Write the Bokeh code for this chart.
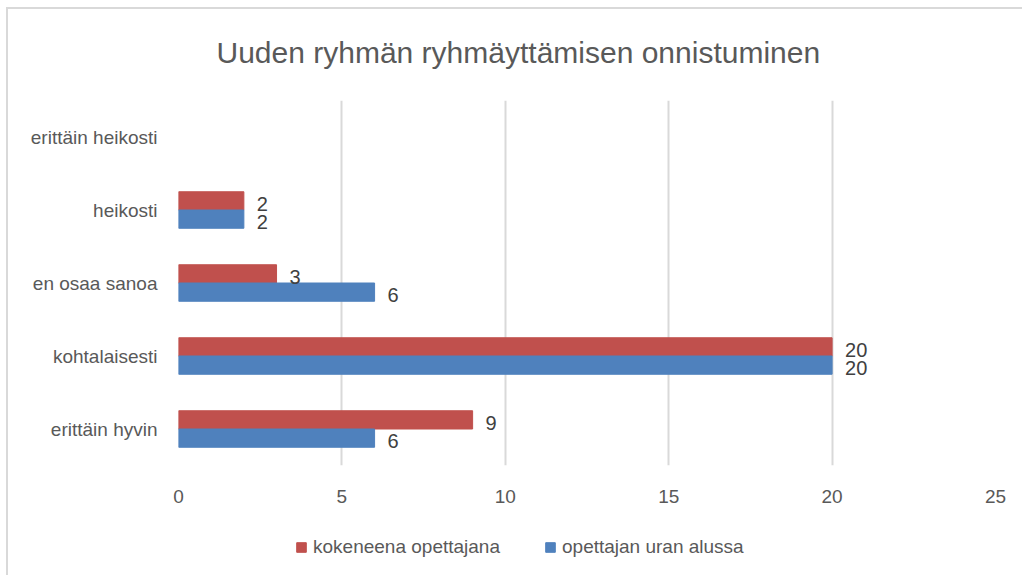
from bokeh.plotting import figure
from bokeh.models import ColumnDataSource, FactorRange, Range1d, LabelSet, Legend, LegendItem, FixedTicker
from bokeh.layouts import column
from bokeh.transform import dodge
from bokeh.core.properties import value
from bokeh.embed import file_html
from bokeh.resources import INLINE

title = "Uuden ryhmän ryhmäyttämisen onnistuminen"
categories = ["erittäin heikosti", "heikosti", "en osaa sanoa", "kohtalaisesti", "erittäin hyvin"]
kokeneena = [None, 2, 3, 20, 9]
alussa = [None, 2, 6, 20, 6]
series_names = ["kokeneena opettajana", "opettajan uran alussa"]
x_ticks = [0, 5, 10, 15, 20, 25]

FONT = "Liberation Sans"
RED = "#C0504D"
BLUE = "#4F81BD"
GRAY_TXT = "#595959"
LINE = "linear-gradient(#d9d9d9,#d9d9d9)"

def build(vals):
    c = [k for k, v in zip(categories, vals) if v is not None]
    v = [v for v in vals if v is not None]
    return ColumnDataSource(dict(cat=c, val=v, lab=[str(x) for x in v]))

src_r = build(kokeneena)
src_b = build(alussa)

p = figure(width=1022, height=520,
           y_range=FactorRange(factors=categories[::-1]),
           x_range=Range1d(0, 25),
           output_backend="svg", toolbar_location=None,
           min_border_left=178, min_border_right=27, min_border_top=100, min_border_bottom=55,
           title=title)
p.styles = {"background": f"{LINE} 6px 7px / 100% 2px no-repeat, {LINE} 6px 7px / 2px 100% no-repeat, white"}

p.title.align = "left"
p.title.offset = 38
p.title.text_font = FONT
p.title.text_font_size = "30px"
p.title.text_font_style = "normal"
p.title.text_color = GRAY_TXT
p.title.standoff = 63

p.outline_line_color = None
p.background_fill_color = "white"
p.border_fill_color = None

r1 = p.hbar(y=dodge("cat", 0.125, range=p.y_range), right="val", left=0, height=0.25,
            source=src_r, fill_color=RED, line_color=RED)
r2 = p.hbar(y=dodge("cat", -0.125, range=p.y_range), right="val", left=0, height=0.25,
            source=src_b, fill_color=BLUE, line_color=BLUE)

for src, off in ((src_r, 0.125), (src_b, -0.125)):
    p.add_layout(LabelSet(x="val", y=dodge("cat", off, range=p.y_range), text="lab", source=src,
                          x_offset=13, y_offset=-3, text_baseline="middle", text_font=value(FONT),
                          text_font_size="20px", text_color="#404040"))

p.xaxis.ticker = FixedTicker(ticks=x_ticks)
p.xaxis.axis_line_color = None
p.xaxis.major_tick_line_color = None
p.xaxis.minor_tick_line_color = None
p.xaxis.major_label_text_font = FONT
p.xaxis.major_label_text_font_size = "19px"
p.xaxis.major_label_text_color = GRAY_TXT
p.xaxis.major_label_standoff = 18

p.yaxis.axis_line_color = None
p.yaxis.major_tick_line_color = None
p.yaxis.minor_tick_line_color = None
p.yaxis.major_label_text_font = FONT
p.yaxis.major_label_text_font_size = "19px"
p.yaxis.major_label_text_color = GRAY_TXT
p.yaxis.major_label_standoff = 15

p.xgrid.grid_line_color = "#D9D9D9"
p.xgrid.grid_line_width = 2
p.ygrid.grid_line_color = None

# legend strip below the chart (proxy glyphs lie outside the strip's visible range)
p2 = figure(width=1022, height=55, x_range=Range1d(0, 1), y_range=Range1d(0, 1),
            x_axis_type=None, y_axis_type=None, output_backend="svg", toolbar_location=None,
            min_border_left=0, min_border_right=0, min_border_top=0, min_border_bottom=0)
p2.styles = {"background": f"{LINE} 6px 0px / 2px 100% no-repeat, white"}
p2.outline_line_color = None
p2.background_fill_color = None
p2.border_fill_color = None
p2.xgrid.visible = False
p2.ygrid.visible = False
g1 = p2.rect(x=[-10], y=[-10], width=1, height=1, fill_color=RED, line_color=RED)
g2 = p2.rect(x=[-10], y=[-10], width=1, height=1, fill_color=BLUE, line_color=BLUE)
legend = Legend(items=[LegendItem(label=series_names[0], renderers=[g1]),
                       LegendItem(label=series_names[1], renderers=[g2])],
                orientation="horizontal", location=(117, 17),
                label_text_font=FONT, label_text_font_size="19px", label_text_color=GRAY_TXT,
                glyph_width=12, glyph_height=12, spacing=44, padding=0, margin=0,
                border_line_color=None, background_fill_alpha=0, label_standoff=6)
p2.add_layout(legend, "center")

open("out.html", "w").write(file_html(column(p, p2, spacing=0), INLINE))
